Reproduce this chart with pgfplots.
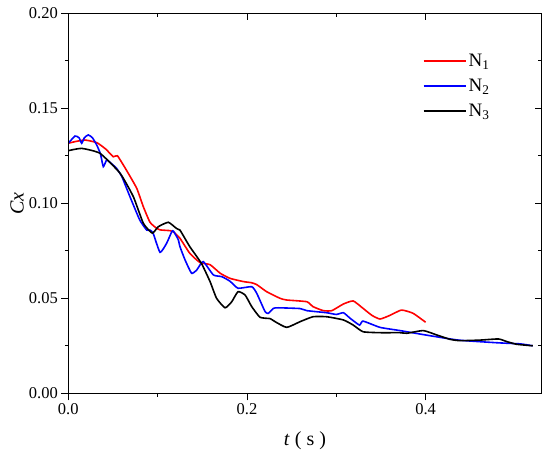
\documentclass[border=0pt]{standalone}
\usepackage{fontspec}
\setmainfont{Liberation Serif}
\usepackage{pgfplots}
\pgfplotsset{compat=1.18}

\pgfplotstableread{
t c
0 0.1316
0.008 0.1325
0.0187 0.1333
0.032 0.1319
0.042 0.1285
0.0504 0.1245
0.055 0.1250
0.065 0.1175
0.0766 0.1079
0.084 0.0982
0.0915 0.0900
0.099 0.0868
0.1027 0.0860
0.114 0.0856
0.1176 0.0850
0.125 0.0816
0.136 0.0737
0.1475 0.0688
0.1587 0.0677
0.17 0.0632
0.181 0.0605
0.196 0.0588
0.205 0.0582
0.211 0.0572
0.222 0.0535
0.237 0.0500
0.2445 0.0491
0.267 0.0482
0.274 0.0456
0.2855 0.0435
0.295 0.0435
0.308 0.0470
0.319 0.0486
0.330 0.0447
0.340 0.0410
0.349 0.0391
0.360 0.0410
0.373 0.0438
0.386 0.0421
0.40 0.0374
}\None

\pgfplotstableread{
t c
0 0.1316
0.0075 0.1354
0.012 0.1345
0.015 0.1316
0.018 0.1345
0.0224 0.1360
0.027 0.1345
0.0318 0.1307
0.036 0.1260
0.0392 0.1193
0.043 0.1228
0.048 0.1210
0.054 0.1184
0.060 0.1140
0.069 0.1035
0.080 0.0912
0.0878 0.0859
0.0915 0.0859
0.095 0.0842
0.1027 0.0742
0.110 0.0789
0.1158 0.0850
0.1176 0.0854
0.123 0.0810
0.125 0.0772
0.1307 0.0702
0.138 0.0632
0.1438 0.0649
0.151 0.0693
0.1624 0.0623
0.1718 0.0614
0.181 0.0590
0.190 0.0553
0.2054 0.0561
0.211 0.0526
0.2203 0.0430
0.224 0.0421
0.2296 0.0447
0.235 0.0450
0.2595 0.0446
0.267 0.0435
0.2893 0.0424
0.300 0.0415
0.308 0.0424
0.3155 0.0395
0.326 0.0359
0.330 0.0380
0.349 0.0347
0.3714 0.0330
0.40 0.0307
0.4367 0.0280
0.48 0.0266
0.506 0.0260
0.52 0.0250
}\Ntwo

\pgfplotstableread{
t c
0 0.1277
0.015 0.1289
0.0355 0.1263
0.058 0.1158
0.0728 0.1035
0.084 0.0895
0.094 0.0843
0.1008 0.0877
0.112 0.0900
0.121 0.0868
0.125 0.0859
0.136 0.0772
0.149 0.0684
0.1587 0.0588
0.166 0.0500
0.1755 0.0450
0.183 0.0482
0.190 0.0535
0.198 0.0517
0.2054 0.0456
0.2147 0.0400
0.226 0.0393
0.2315 0.0377
0.2445 0.0347
0.2595 0.0377
0.274 0.0403
0.2893 0.0403
0.308 0.0386
0.319 0.0359
0.330 0.0324
0.349 0.0319
0.3714 0.0319
0.379 0.0316
0.3975 0.0330
0.4125 0.0307
0.4274 0.0284
0.4386 0.0277
0.461 0.0280
0.4815 0.0286
0.491 0.0272
0.502 0.0258
0.52 0.0250
}\Nthree

\pgfplotsset{
  common/.style={
    width=473.4pt, height=380pt, scale only axis,
    xmin=0, xmax=0.53, ymin=0, ymax=0.20,
    xtick={0,0.2,0.4}, ytick={0,0.05,0.1,0.15,0.2},
    minor x tick num=1, minor y tick num=1,
    major tick length=7pt, minor tick length=3.5pt,
    every tick/.style={black, line width=0.8pt},
    axis line style={line width=0.8pt},
    scaled ticks=false,
  }
}

\begin{document}
\begin{tikzpicture}
\begin{axis}[common,
  tick align=outside, xtick pos=left, ytick pos=left,
  /pgf/number format/assume math mode=true,
  ticklabel style={font=\fontsize{16.5}{19}\selectfont},
  xticklabel style={/pgf/number format/.cd, fixed, fixed zerofill, precision=1},
  yticklabel style={/pgf/number format/.cd, fixed, fixed zerofill, precision=2},
  xlabel={\textit{t} ( s )}, ylabel={\textit{Cx}},
  label style={font=\fontsize{20}{23}\selectfont},
  xlabel style={at={(axis description cs:0.5,-0.125)}, anchor=center},
  ylabel style={at={(axis description cs:-0.108,0.5)}, anchor=center},
  legend style={at={(axis description cs:0.742,0.903)}, anchor=north west,
    draw=none, fill=none, font=\fontsize{19}{22}\selectfont, row sep=7pt},
  legend cell align=left,
  legend image code/.code={\draw[#1, line width=1.8pt] (0pt,0pt) -- (42pt,0pt);},
]
\coordinate (O) at (rel axis cs:0,0);
\addplot[red, line width=1.6pt, smooth, tension=0.3] table {\None};
\addlegendentry{N\textsubscript{1}}
\addplot[blue, line width=1.6pt, smooth, tension=0.3] table {\Ntwo};
\addlegendentry{N\textsubscript{2}}
\addplot[black, line width=1.6pt, smooth, tension=0.3] table {\Nthree};
\addlegendentry{N\textsubscript{3}}
\end{axis}
\begin{axis}[common, tick align=inside, xtick pos=right, ytick pos=right,
  xticklabels={}, yticklabels={}]
\end{axis}
\pgfresetboundingbox
\path[use as bounding box] (O) ++(-68.3pt,-67.7pt) rectangle ++(550pt,461pt);
\end{tikzpicture}
\end{document}
